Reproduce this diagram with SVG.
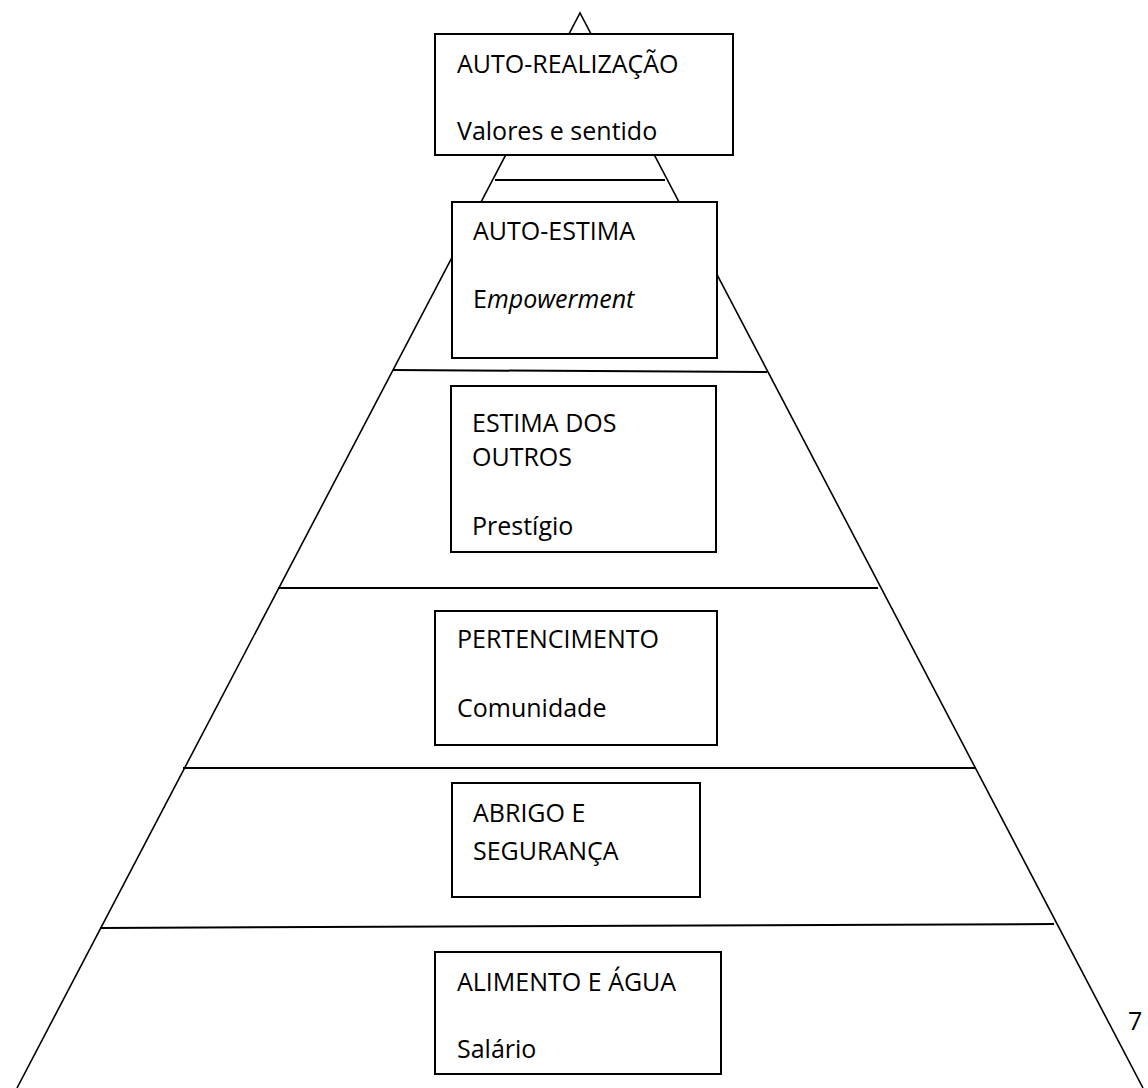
<svg xmlns="http://www.w3.org/2000/svg" width="1148" height="1088" viewBox="0 0 1148 1088">
  <style>
    .edge { fill: none; stroke: #000; stroke-width: 1.6; }
    .tier { fill: none; stroke: #000; stroke-width: 2; }
    .box { fill: #fff; stroke: #000; stroke-width: 2; }
    .lbl { font-family: "Open Sans", "Noto Sans", sans-serif; font-size: 25px; fill: #000; }
    .it { font-style: italic; }
  </style>
  <rect width="1148" height="1088" fill="#fff"/>

  <!-- pyramid outline and tier dividers -->
  <g id="connectors">
    <path class="edge" d="M17,1088 L580,13 L1143,1088"/>
    <line class="tier" x1="495" y1="180" x2="665" y2="180"/>
    <line class="tier" x1="393" y1="370" x2="767" y2="372"/>
    <line class="tier" x1="278" y1="588" x2="878" y2="588"/>
    <line class="tier" x1="183" y1="768" x2="976" y2="768"/>
    <line class="tier" x1="100" y1="928" x2="1054" y2="924"/>
  </g>

  <g id="auto-realizacao">
    <rect class="box" x="435" y="34" width="298" height="121"/>
    <text class="lbl" x="457" y="73">AUTO-REALIZAÇÃO</text>
    <text class="lbl" x="457" y="140">Valores e sentido</text>
  </g>

  <g id="auto-estima">
    <rect class="box" x="452" y="202" width="265" height="156"/>
    <text class="lbl" x="473" y="240">AUTO-ESTIMA</text>
    <text class="lbl" x="473" y="308">E<tspan class="it">mpowerment</tspan></text>
  </g>

  <g id="estima-dos-outros">
    <rect class="box" x="451" y="386" width="265" height="166"/>
    <text class="lbl" x="472" y="432">ESTIMA DOS</text>
    <text class="lbl" x="472" y="466">OUTROS</text>
    <text class="lbl" x="472" y="535">Prestígio</text>
  </g>

  <g id="pertencimento">
    <rect class="box" x="435" y="611" width="282" height="134"/>
    <text class="lbl" x="457" y="648">PERTENCIMENTO</text>
    <text class="lbl" x="457" y="717">Comunidade</text>
  </g>

  <g id="abrigo-e-seguranca">
    <rect class="box" x="452" y="783" width="248" height="114"/>
    <text class="lbl" x="473" y="822">ABRIGO E</text>
    <text class="lbl" x="473" y="860">SEGURANÇA</text>
  </g>

  <g id="alimento-e-agua">
    <rect class="box" x="435" y="952" width="286" height="122"/>
    <text class="lbl" x="457" y="991">ALIMENTO E ÁGUA</text>
    <text class="lbl" x="457" y="1058">Salário</text>
  </g>

  <text class="lbl" x="1128" y="1030">7</text>
</svg>
